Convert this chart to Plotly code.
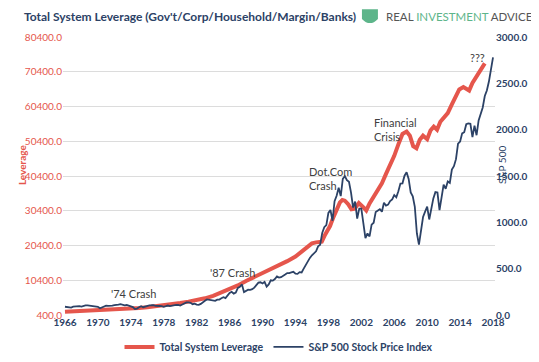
import plotly.graph_objects as go

# ---- Data ----
lev_years = [1966, 1967, 1968, 1969, 1970, 1971, 1972, 1973, 1974, 1975, 1976, 1977, 1978,
             1979, 1980, 1981, 1982, 1983, 1984, 1985, 1986, 1987, 1988, 1989, 1990, 1991,
             1992, 1993, 1994, 1995, 1996, 1996.5, 1997.2, 1997.6, 1998.2, 1998.6, 1999.0,
             1999.4, 1999.7, 2000.0, 2000.4, 2000.8, 2001.2, 2001.7, 2002.2, 2002.6, 2003.0,
             2003.5, 2004.0, 2004.5, 2005.0, 2005.5, 2006.0, 2006.5, 2007.0, 2007.5, 2007.9,
             2008.3, 2008.7, 2009.1, 2009.5, 2010.0, 2010.4, 2010.8, 2011.2, 2011.6, 2012.0,
             2012.5, 2013.0, 2013.5, 2013.9, 2014.4, 2014.8, 2015.1, 2015.5, 2016.0, 2016.4,
             2016.8, 2017.0]
lev_values = [1300, 1400, 1500, 1600, 1700, 1850, 2000, 2150, 2250, 2400, 2600, 2850, 3150,
              3500, 3850, 4250, 4700, 5200, 5900, 6800, 7900, 8900, 10200, 11300, 12400, 13400,
              14600, 15900, 17200, 19000, 21000, 21300, 21500, 23500, 26000, 28500, 30600,
              32800, 33500, 33300, 32300, 30800, 31000, 32600, 31500, 30500, 32500,
              34500, 36300, 38300, 41000, 43500, 46200, 49500, 52500, 53200, 52000,
              49000, 48400, 50800, 52000, 51000, 53500, 54600, 53700, 56000, 57200,
              58500, 61000, 63500, 65300, 66000, 65300, 65000, 67200, 69000, 70500,
              72300, 72800]

sp_start_year = 1966
sp_values = [
    89, 84, 77, 80,      # 1966
    90, 91, 97, 96,      # 1967
    90, 100, 103, 104,   # 1968
    101, 98, 93, 92,     # 1969
    89, 73, 84, 92,      # 1970
    100, 99, 98, 102,    # 1971
    107, 107, 111, 118,  # 1972
    112, 104, 108, 98,   # 1973
    94, 86, 64, 69,      # 1974
    83, 95, 84, 90,      # 1975
    102, 104, 105, 107,  # 1976
    98, 100, 97, 95,     # 1977
    89, 95, 102, 96,     # 1978
    102, 103, 109, 108,  # 1979
    102, 114, 125, 136,  # 1980
    136, 131, 117, 123,  # 1981
    112, 110, 120, 141,  # 1982
    153, 168, 166, 165,  # 1983
    159, 153, 166, 167,  # 1984
    181, 192, 182, 211,  # 1985
    238, 251, 231, 242,  # 1986
    292, 304, 330, 247,  # 1987
    259, 273, 272, 278,  # 1988
    295, 318, 349, 353,  # 1989
    340, 358, 306, 330,  # 1990
    375, 371, 388, 417,  # 1991
    404, 408, 418, 436,  # 1992
    452, 451, 459, 466,  # 1993
    446, 444, 463, 459,  # 1994
    501, 545, 584, 616,  # 1995
    645, 671, 687, 741,  # 1996
    757, 885, 947, 970,  # 1997
    1102, 1134, 1017, 1229,  # 1998
    1286, 1373, 1283, 1469,  # 1999
    1499, 1455, 1437, 1320,  # 2000
    1160, 1224, 1041, 1148,  # 2001
    1147, 990, 830, 880,     # 2002
    848, 975, 996, 1112,     # 2003
    1126, 1141, 1115, 1212,  # 2004
    1181, 1191, 1229, 1248,  # 2005
    1295, 1270, 1336, 1418,  # 2006
    1421, 1503, 1540, 1468,  # 2007
    1323, 1280, 1166, 880,   # 2008
    760, 919, 1057, 1115,    # 2009
    1169, 1031, 1141, 1258,  # 2010
    1326, 1321, 1131, 1258,  # 2011
    1408, 1362, 1441, 1426,  # 2012
    1569, 1606, 1682, 1848,  # 2013
    1872, 1960, 1972, 2059,  # 2014
    2068, 2063, 1920, 2044,  # 2015
    1940, 2099, 2168, 2239,  # 2016
    2363, 2423, 2519, 2674,  # 2017
    2780,                    # 2018
]
sp_years = [sp_start_year + i / 4 for i in range(len(sp_values))]

x_ticks = list(range(1966, 2019, 4))
lev_ticks = [400 + 10000 * i for i in range(9)]
sp_ticks = [500 * i for i in range(7)]

annotations_data = [
    ("'74 Crash", 1974.3, 6730),
    ("'87 Crash", 1986.3, 12490),
    ("Dot.Com<br>Crash", 1998.3, 39820),
    ("Financial<br>Crisis", 2006.1, 53780),
    ("???", 2016.1, 74640),
]

RED = "#E5564C"
NAVY = "#2C4266"
FONT = "Lato"

fig = go.Figure()
fig.add_trace(go.Scatter(x=lev_years, y=lev_values, name="Total System Leverage",
                         mode="lines", line=dict(color=RED, width=4), yaxis="y"))
fig.add_trace(go.Scatter(x=sp_years, y=sp_values, name="S&P 500 Stock Price Index",
                         mode="lines", line=dict(color=NAVY, width=1.8), yaxis="y2"))

ann = []
for text, xx, yy in annotations_data:
    al = "left" if "<br>" in text else "center"
    ann.append(dict(text=text, x=xx, y=yy, xref="x", yref="y", showarrow=False,
                    align=al, font=dict(family=FONT, size=11, color="#404040")))

ann.append(dict(text="Leverage", x=-0.113, y=0.54, xref="paper", yref="paper",
                textangle=-90, showarrow=False,
                font=dict(family=FONT, size=10, color=RED, weight="bold")))
ann.append(dict(text="S&P 500", x=1.035, y=0.54, xref="paper", yref="paper",
                textangle=-90, showarrow=False,
                font=dict(family=FONT, size=10, color=NAVY)))
ann.append(dict(text="REAL <span style='color:#5DB58A'>INVESTMENT</span> ADVICE",
                x=0.742, y=1.072, xref="paper", yref="paper", xanchor="left",
                yanchor="middle", showarrow=False,
                font=dict(family=FONT, size=11.5, color="#555555")))
ann.append(dict(text="<b>Total System Leverage (Gov't/Corp/Household/Margin/Banks)</b>",
                x=0.683, y=1.072, xref="paper", yref="paper", xanchor="right",
                yanchor="middle", showarrow=False,
                font=dict(family=FONT, size=12, color=NAVY)))

# page body has an 8px margin: figure is sized/margined to compensate
fig.update_layout(
    width=523, height=346,
    margin=dict(l=55, r=36, t=29, b=39, autoexpand=False),
    paper_bgcolor="white", plot_bgcolor="white",
    xaxis=dict(range=[1965.76, 2018.24], tickvals=x_ticks, showgrid=False,
               zeroline=False, showline=False, ticks="", automargin=False,
               tickfont=dict(family=FONT, size=10, color=NAVY, weight="bold")),
    yaxis=dict(range=[400, 80400], tickvals=lev_ticks, tickformat=".1f", automargin=False,
               gridcolor="#DCDCDC", gridwidth=1, zeroline=False, showline=False,
               tickfont=dict(family=FONT, size=10, color=RED)),
    yaxis2=dict(range=[0, 3000], tickvals=sp_ticks, tickformat=".1f", overlaying="y",
                side="right", showgrid=False, zeroline=False, showline=False, automargin=False,
                tickfont=dict(family=FONT, size=10, color=NAVY, weight="bold")),
    legend=dict(orientation="h", x=0.5, xanchor="center", y=-0.115, yanchor="middle",
                font=dict(family=FONT, size=10.5, color=NAVY, weight="bold"),
                bgcolor="rgba(0,0,0,0)"),
    annotations=ann,
    shapes=[dict(type="path", xref="paper", yref="paper",
                 path="M 0.692 1.10 L 0.729 1.10 L 0.729 1.065 Q 0.7105 1.035 0.692 1.065 Z",
                 fillcolor="#5DB58A", line=dict(width=0))],
    showlegend=True,
)

fig.write_html("out.html")
